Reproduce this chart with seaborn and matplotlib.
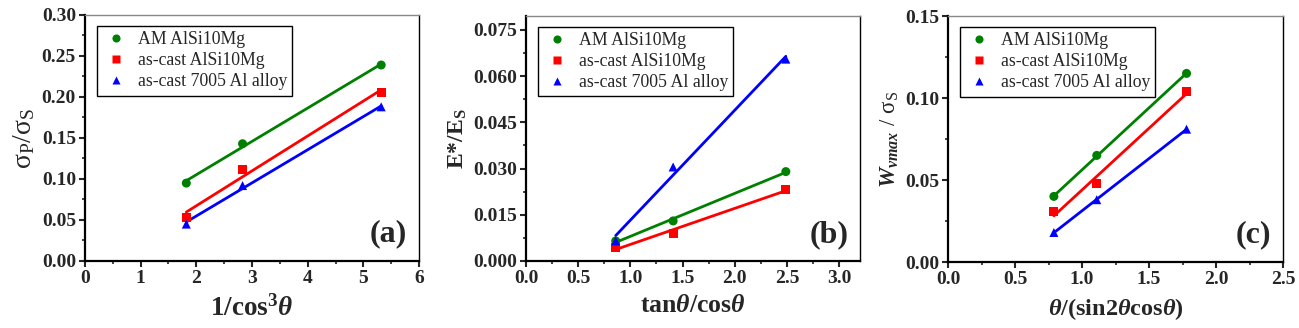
import numpy as np
import pandas as pd
import matplotlib
matplotlib.use("Agg")
import matplotlib.pyplot as plt
from matplotlib.ticker import MultipleLocator
import seaborn as sns

series = ["AM AlSi10Mg", "as-cast AlSi10Mg", "as-cast 7005 Al alloy"]

# panel (a)
a_x = [1.82, 2.83, 5.32]
a_am = [0.095, 0.143, 0.239]
a_cast = [0.053, 0.112, 0.206]
a_7005 = [0.045, 0.092, 0.188]

# panel (b)
b_x = [0.86, 1.41, 2.49]
b_am = [0.0065, 0.0130, 0.0290]
b_cast = [0.0045, 0.0090, 0.0232]
b_7005 = [0.0065, 0.0305, 0.0655]

# panel (c)
c_x = [0.79, 1.11, 1.78]
c_am = [0.040, 0.065, 0.115]
c_cast = [0.031, 0.048, 0.104]
c_7005 = [0.018, 0.038, 0.081]

sns.set_style("ticks")
plt.rcParams["font.family"] = ["Liberation Serif", "DejaVu Serif"]
plt.rcParams["mathtext.fontset"] = "custom"
plt.rcParams["mathtext.rm"] = "Liberation Serif"
plt.rcParams["mathtext.bf"] = "Liberation Serif:bold"
plt.rcParams["mathtext.it"] = "Liberation Serif:italic:bold"

colors = {"AM AlSi10Mg": "#008000", "as-cast AlSi10Mg": "#ff0000",
          "as-cast 7005 Al alloy": "#0000ff"}
markers = {"AM AlSi10Mg": "o", "as-cast AlSi10Mg": "s",
           "as-cast 7005 Al alloy": "^"}


def make_df(x, ys):
    rows = []
    for name, yv in zip(series, ys):
        for xi, yi in zip(x, yv):
            rows.append({"x": xi, "y": yi, "series": name})
    return pd.DataFrame(rows)


panels = [
    dict(df=make_df(a_x, [a_am, a_cast, a_7005]), xlim=(0, 6), ylim=(0, 0.30),
         xmaj=1, xmin=0.5, ymaj=0.05, ymin=0.025, yfmt="%.2f", xfmt="%d",
         xlabel=r"$\mathbf{1/cos^3}\mathit{\theta}$", xls=19.5,
         ylabel=r"$\mathrm{\sigma_P/\sigma_S}$", yls=20, tag="(a)",
         pos=[0.0654, 0.2043, 0.2572, 0.750]),
    dict(df=make_df(b_x, [b_am, b_cast, b_7005]), xlim=(0, 3.2), ylim=(0, 0.0795),
         xmaj=0.5, xmin=0.25, ymaj=0.015, ymin=0.0075, yfmt="%.3f", xfmt="%.1f",
         xlabel=r"$\mathbf{tan}\mathit{\theta}\mathbf{/cos}\mathit{\theta}$", xls=18.5,
         ylabel=r"E*/E$_\mathbf{S}$", yls=17, tag="(b)",
         pos=[0.4049, 0.2043, 0.2571, 0.747]),
    dict(df=make_df(c_x, [c_am, c_cast, c_7005]), xlim=(0, 2.5), ylim=(0, 0.15),
         xmaj=0.5, xmin=0.25, ymaj=0.05, ymin=0.025, yfmt="%.2f", xfmt="%.1f",
         xlabel=r"$\mathit{\theta}\mathbf{/(sin2}\mathit{\theta}\mathbf{cos}\mathit{\theta}\mathbf{)}$",
         xls=17.5,
         ylabel=r"$\mathit{W}_{\mathit{vmax}}\ /\ \mathrm{\sigma_S}$", yls=16.5, tag="(c)",
         pos=[0.7298, 0.2012, 0.2579, 0.750]),
]

fig = plt.figure(figsize=(12.99, 3.28), dpi=100)
fig.patch.set_facecolor("white")

for p in panels:
    ax = fig.add_axes(p["pos"])
    df = p["df"]
    for name in series:
        sub = df[df["series"] == name]
        sns.regplot(data=sub, x="x", y="y", ax=ax, scatter=False, ci=None,
                    truncate=True, color=colors[name], line_kws={"lw": 2})
    sns.scatterplot(data=df, x="x", y="y", hue="series", style="series",
                    palette=colors, markers=markers, s=42, edgecolor="none",
                    ax=ax, zorder=3)
    ax.set_xlim(*p["xlim"])
    ax.set_ylim(*p["ylim"])
    ax.xaxis.set_major_locator(MultipleLocator(p["xmaj"]))
    ax.xaxis.set_minor_locator(MultipleLocator(p["xmin"]))
    ax.yaxis.set_major_locator(MultipleLocator(p["ymaj"]))
    ax.yaxis.set_minor_locator(MultipleLocator(p["ymin"]))
    ax.xaxis.set_major_formatter(matplotlib.ticker.FormatStrFormatter(p["xfmt"]))
    ax.yaxis.set_major_formatter(matplotlib.ticker.FormatStrFormatter(p["yfmt"]))
    ax.tick_params(which="major", direction="out", length=4, width=1.5,
                   labelsize=14, top=False, right=False, pad=2.5)
    ax.tick_params(which="minor", direction="out", length=2.5, width=1.2,
                   top=False, right=False)
    for lab in ax.get_xticklabels() + ax.get_yticklabels():
        lab.set_fontweight("bold")
    ax.set_xlabel(p["xlabel"], fontsize=p["xls"], labelpad=6)
    ax.set_ylabel(p["ylabel"], fontsize=p["yls"], labelpad=3, fontweight="bold")
    for side in ["left", "bottom"]:
        ax.spines[side].set_linewidth(1.6)
        ax.spines[side].set_color("black")
    ax.spines["top"].set_visible(True)
    ax.spines["right"].set_visible(True)
    ax.spines["top"].set_color("#888888")
    ax.spines["top"].set_linewidth(1.0)
    ax.spines["right"].set_color("black")
    ax.spines["right"].set_linewidth(1.0)
    leg = ax.legend(loc="upper left", bbox_to_anchor=(0.035, 0.955),
                    borderaxespad=0, fontsize=12.8, frameon=True, fancybox=False,
                    edgecolor="black", framealpha=1, handletextpad=0.4,
                    handlelength=1.6, borderpad=0.3, labelspacing=0.22,
                    markerscale=0.9)
    leg.get_frame().set_linewidth(1.0)
    ax.text(0.965, 0.05, p["tag"], transform=ax.transAxes, ha="right",
            va="bottom", fontsize=23, fontweight="bold")

fig.savefig("out.png", dpi=100, facecolor="white")
